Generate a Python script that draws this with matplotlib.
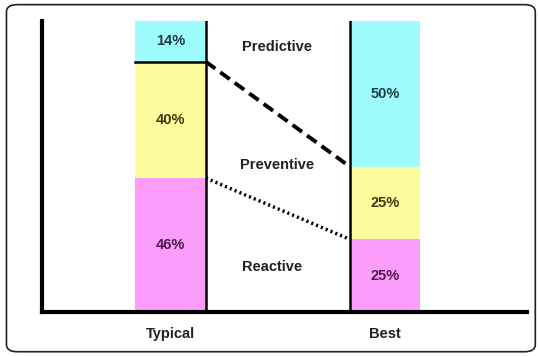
import matplotlib.pyplot as plt
from matplotlib.patches import FancyBboxPatch

plt.rcParams['font.family'] = ['Liberation Sans', 'DejaVu Sans']
plt.rcParams['font.weight'] = 'bold'

# data
groups = ['Typical', 'Best']
reactive = [46, 25]
preventive = [40, 25]
predictive = [14, 50]
series_names = ['Predictive', 'Preventive', 'Reactive']

col_pred = '#9ffcfc'
col_prev = '#fdfc9d'
col_reac = '#fd9dfb'
fs = 10.5

fig = plt.figure(figsize=(5.38, 3.56), dpi=100)
# rounded frame round the whole picture
fig.patches.append(FancyBboxPatch((0.012, 0.012), 0.983, 0.975, boxstyle='round,pad=0,rounding_size=0.02',
                                  transform=fig.transFigure, fill=False, ec='#222222', lw=1.2))

ax = fig.add_axes([0.078, 0.1236, 0.9015, 0.8174])
x = [0, 1]
w = 0.33
bottom_prev = reactive
bottom_pred = [r + p for r, p in zip(reactive, preventive)]

ax.bar(x, reactive, w, color=col_reac)
ax.bar(x, preventive, w, bottom=bottom_prev, color=col_prev)
ax.bar(x, predictive, w, bottom=bottom_pred, color=col_pred)

# labels inside bars
for i in range(2):
    ax.text(x[i], reactive[i] / 2, f'{reactive[i]}%', ha='center', va='center', fontsize=fs, color='#4a1c4a')
    ax.text(x[i], bottom_prev[i] + preventive[i] / 2, f'{preventive[i]}%', ha='center', va='center',
            fontsize=fs, color='#3a3a14')
    ax.text(x[i], bottom_pred[i] + predictive[i] / 2, f'{predictive[i]}%', ha='center', va='center',
            fontsize=fs, color='#1c3c44')

# black edges
ax.plot([x[0] + w / 2, x[0] + w / 2], [0, 100], color='black', lw=1.8)
ax.plot([x[1] - w / 2, x[1] - w / 2], [0, 100], color='black', lw=1.8)
ax.plot([x[0] - w / 2, x[0] + w / 2], [bottom_pred[0], bottom_pred[0]], color='black', lw=1.8)

# connecting lines
ax.plot([x[0] + w / 2, x[1] - w / 2], [bottom_pred[0], bottom_pred[1]], color='black', lw=2.8,
        linestyle=(0, (3, 1.6)))
ax.plot([x[0] + w / 2, x[1] - w / 2], [bottom_prev[0], bottom_prev[1]], color='black', lw=2.5,
        linestyle=(0, (0.6, 0.9)))

# series names
ax.text(0.497, 91, series_names[0], ha='center', va='center', fontsize=fs, color='#222222')
ax.text(0.497, 50.5, series_names[1], ha='center', va='center', fontsize=fs, color='#222222')
ax.text(0.473, 15.5, series_names[2], ha='center', va='center', fontsize=fs, color='#222222')

ax.set_xlim(-0.599, 1.662)
ax.set_ylim(0, 100)
ax.set_xticks(x)
ax.set_xticklabels(groups, fontsize=fs, color='#222222')
ax.tick_params(axis='x', length=0, pad=11)
ax.set_yticks([])
for s in ['top', 'right']:
    ax.spines[s].set_visible(False)
ax.spines['left'].set_linewidth(3)
ax.spines['bottom'].set_linewidth(3)

fig.savefig('out.png', dpi=100)
